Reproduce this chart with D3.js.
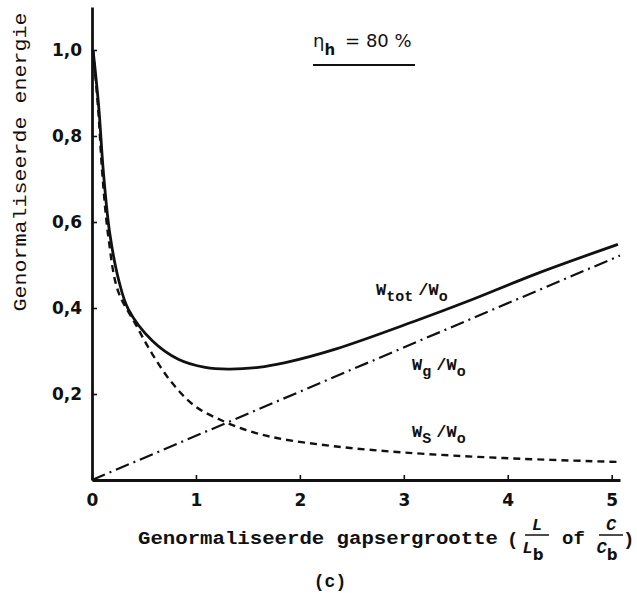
<!DOCTYPE html>
<html>
<head>
<meta charset="utf-8">
<script src="https://cdn.jsdelivr.net/npm/d3@7/dist/d3.min.js"></script>
<style>
  body { margin: 0; background: #fff; }
  svg text { fill: #111; }
</style>
</head>
<body>
<div id="vis"></div>
<script>
// DATA
const xTicks = [0, 1, 2, 3, 4, 5];
const yTicks = [0.2, 0.4, 0.6, 0.8, 1.0];

// W_tot / W_o  (solid)
const totX = [0.01, 0.064, 0.11, 0.17, 0.26, 0.35, 0.58, 0.83, 1.09, 1.31, 1.6, 1.86, 2.35, 3.09, 3.64, 4.28, 5.06];
const totY = [1.0, 0.87, 0.715, 0.575, 0.462, 0.397, 0.324, 0.281, 0.262, 0.258, 0.262, 0.273, 0.305, 0.368, 0.418, 0.48, 0.548];

// W_s / W_o  (dashed)
const sX = [0.01, 0.06, 0.1, 0.16, 0.25, 0.42, 0.58, 0.77, 0.99, 1.28, 1.54, 1.79, 2.35, 3.0, 3.96, 5.06];
const sY = [1.0, 0.86, 0.71, 0.56, 0.44, 0.362, 0.293, 0.226, 0.172, 0.135, 0.112, 0.097, 0.078, 0.064, 0.051, 0.042];

// W_g / W_o  (dash-dot, straight)
const gX = [0, 5.08];
const gY = [0, 0.522];

const width = 637, height = 593;
const ink = "#111";
const mono = "'Liberation Mono', 'DejaVu Sans Mono', monospace";
const sans = "'DejaVu Sans', sans-serif";

const svg = d3.select("#vis").append("svg")
  .attr("width", width)
  .attr("height", height);

// SCALES
const x = d3.scaleLinear().domain([0, 5.08]).range([92, 620]);
const y = d3.scaleLinear().domain([0, 1.1]).range([480, 7]);

// AXES
const fmtComma = d => d3.format(".1f")(d).replace(".", ",");

const yAxis = svg.append("g")
  .attr("transform", `translate(${x(0)},0)`)
  .call(d3.axisLeft(y).tickValues(yTicks).tickFormat(fmtComma)
    .tickSize(-5).tickSizeOuter(0).tickPadding(10));

const xAxis = svg.append("g")
  .attr("transform", `translate(0,${y(0)})`)
  .call(d3.axisBottom(x).tickValues(xTicks).tickFormat(d3.format("d"))
    .tickSize(-5).tickSizeOuter(0).tickPadding(14));

[yAxis, xAxis].forEach(a => {
  a.select(".domain").attr("stroke", ink).attr("stroke-width", 2.8);
  a.selectAll(".tick line").attr("stroke", ink).attr("stroke-width", 1.6);
  a.selectAll(".tick text")
    .style("font-family", sans)
    .style("font-weight", "bold")
    .style("font-size", "17px")
    .attr("fill", ink);
});

// CURVES
function curvePath(xs, ys, curve) {
  return d3.line()
    .x(d => x(d[0]))
    .y(d => y(d[1]))
    .curve(curve)(d3.zip(xs, ys));
}

const smooth = d3.curveCatmullRom.alpha(0.5);

svg.append("path")
  .attr("d", curvePath(sX, sY, smooth))
  .attr("fill", "none")
  .attr("stroke", ink)
  .attr("stroke-width", 2.4)
  .attr("stroke-dasharray", "7,5");

svg.append("path")
  .attr("d", curvePath(gX, gY, d3.curveLinear))
  .attr("fill", "none")
  .attr("stroke", ink)
  .attr("stroke-width", 2.2)
  .attr("stroke-dasharray", "14,5,2,5");

svg.append("path")
  .attr("d", curvePath(totX, totY, smooth))
  .attr("fill", "none")
  .attr("stroke", ink)
  .attr("stroke-width", 2.8);

// LABELS
function wLabel(px, py, sub) {
  const t = svg.append("text")
    .attr("x", px).attr("y", py)
    .style("font-family", mono)
    .style("font-weight", "bold")
    .style("font-size", "17px");
  t.append("tspan").text("W");
  t.append("tspan").attr("dy", 6).style("font-size", "15px").text(sub);
  t.append("tspan").attr("dy", -6).attr("dx", 5).text("/W");
  t.append("tspan").attr("dy", 6).style("font-size", "15px").text("o");
}
wLabel(376, 295, "tot");
wLabel(412, 370, "g");
wLabel(412, 437, "S");

// eta_h = 80 %
const title = svg.append("text")
  .attr("x", 313).attr("y", 47)
  .style("font-family", sans)
  .style("font-size", "18px");
title.append("tspan").text("η");
title.append("tspan").attr("dy", 8).style("font-size", "15px").style("font-weight", "bold").text("h");
title.append("tspan").attr("dy", -8).attr("dx", 10).text("=  80 %");

svg.append("line")
  .attr("x1", 313).attr("x2", 415)
  .attr("y1", 65).attr("y2", 65)
  .attr("stroke", ink).attr("stroke-width", 2);

// y label
svg.append("text")
  .attr("transform", "translate(26,162) rotate(-90)")
  .attr("text-anchor", "middle")
  .attr("textLength", 299)
  .attr("lengthAdjust", "spacingAndGlyphs")
  .style("font-family", mono)
  .style("font-size", "19px")
  .text("Genormaliseerde energie");

// x label
svg.append("text")
  .attr("x", 138).attr("y", 544)
  .attr("textLength", 360)
  .attr("lengthAdjust", "spacingAndGlyphs")
  .style("font-family", mono)
  .style("font-size", "19px")
  .style("font-weight", "bold")
  .text("Genormaliseerde gapsergrootte");

function frac(cx, letter) {
  svg.append("text")
    .attr("x", cx).attr("y", 530)
    .attr("text-anchor", "middle")
    .style("font-family", mono).style("font-size", "17px")
    .style("font-style", "italic").style("font-weight", "bold")
    .text(letter);
  svg.append("line")
    .attr("x1", cx - 12).attr("x2", cx + 12)
    .attr("y1", 535).attr("y2", 535)
    .attr("stroke", ink).attr("stroke-width", 1.5);
  const d = svg.append("text")
    .attr("x", cx - 4).attr("y", 553)
    .attr("text-anchor", "middle")
    .style("font-family", mono).style("font-size", "17px")
    .style("font-weight", "bold");
  d.append("tspan").style("font-style", "italic").text(letter);
  d.append("tspan").attr("dy", 7).style("font-family", sans).style("font-size", "15px").text("b");
}

svg.append("text")
  .attr("x", 507).attr("y", 545)
  .style("font-family", mono).style("font-size", "19px").style("font-weight", "bold")
  .text("(");
frac(537, "L");
svg.append("text")
  .attr("x", 562).attr("y", 544)
  .style("font-family", mono).style("font-size", "19px").style("font-weight", "bold")
  .text("of");
frac(611, "C");
svg.append("text")
  .attr("x", 623).attr("y", 545)
  .style("font-family", mono).style("font-size", "19px").style("font-weight", "bold")
  .text(")");

svg.append("text")
  .attr("x", 330).attr("y", 587)
  .attr("text-anchor", "middle")
  .style("font-family", mono).style("font-size", "18px").style("font-weight", "bold")
  .text("(c)");
</script>
</body>
</html>
